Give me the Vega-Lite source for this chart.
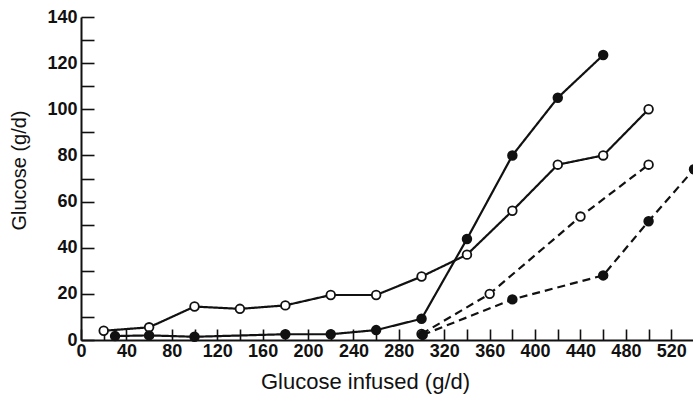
{
  "$schema": "https://vega.github.io/schema/vega-lite/v6.json",
  "width": 613,
  "height": 323,
  "autosize": {"type": "none"},
  "padding": {"left": 81, "top": 17, "right": 0, "bottom": 57},
  "background": "white",
  "config": {"view": {"stroke": null}},
  "data": {
    "values": [
      {"x": 20, "y": 4, "series": "S1"},
      {"x": 60, "y": 5.5, "series": "S1"},
      {"x": 100, "y": 14.5, "series": "S1"},
      {"x": 140, "y": 13.5, "series": "S1"},
      {"x": 180, "y": 15, "series": "S1"},
      {"x": 220, "y": 19.5, "series": "S1"},
      {"x": 260, "y": 19.5, "series": "S1"},
      {"x": 300, "y": 27.5, "series": "S1"},
      {"x": 340, "y": 37, "series": "S1"},
      {"x": 380, "y": 56, "series": "S1"},
      {"x": 420, "y": 76, "series": "S1"},
      {"x": 460, "y": 80, "series": "S1"},
      {"x": 500, "y": 100, "series": "S1"},
      {"x": 30, "y": 1.7, "series": "S2"},
      {"x": 60, "y": 2, "series": "S2"},
      {"x": 100, "y": 1.4, "series": "S2"},
      {"x": 180, "y": 2.5, "series": "S2"},
      {"x": 220, "y": 2.5, "series": "S2"},
      {"x": 260, "y": 4.3, "series": "S2"},
      {"x": 300, "y": 9.2, "series": "S2"},
      {"x": 340, "y": 43.8, "series": "S2"},
      {"x": 380, "y": 80, "series": "S2"},
      {"x": 420, "y": 105, "series": "S2"},
      {"x": 460, "y": 123.5, "series": "S2"},
      {"x": 300, "y": 2.6, "series": "S3"},
      {"x": 360, "y": 20, "series": "S3"},
      {"x": 440, "y": 53.5, "series": "S3"},
      {"x": 500, "y": 76, "series": "S3"},
      {"x": 301, "y": 2.2, "series": "S4"},
      {"x": 380, "y": 17.6, "series": "S4"},
      {"x": 460, "y": 28, "series": "S4"},
      {"x": 500, "y": 51.5, "series": "S4"},
      {"x": 540, "y": 74, "series": "S4"}
    ]
  },
  "encoding": {
    "x": {
      "field": "x",
      "type": "quantitative",
      "scale": {"domain": [0, 540], "nice": false, "zero": false},
      "axis": {
        "title": "Glucose infused (g/d)",
        "values": [0, 20, 40, 60, 80, 100, 120, 140, 160, 180, 200, 220, 240, 260, 280, 300, 320, 340, 360, 380, 400, 420, 440, 460, 480, 500, 520, 540],
        "labelExpr": "datum.value % 40 == 0 && datum.value < 540 ? datum.label : ''",
        "grid": false,
        "domainColor": "#111",
        "domainWidth": 2,
        "tickColor": "#111",
        "tickWidth": 1.6,
        "tickSize": -11,
        "labelPadding": 13,
        "labelFont": "Liberation Sans, Arial, sans-serif",
        "labelFontWeight": "bold",
        "labelFontSize": 18,
        "labelColor": "#111",
        "labelFlush": false,
        "labelOverlap": false,
        "titleFont": "Liberation Sans, Arial, sans-serif",
        "titleFontWeight": "normal",
        "titleFontSize": 22,
        "titleColor": "#111",
        "titleX": 284,
        "titleY": 48,
        "titleBaseline": "alphabetic",
        "titleAlign": "center",
        "titleAnchor": null
      }
    },
    "y": {
      "field": "y",
      "type": "quantitative",
      "scale": {"domain": [0, 140], "nice": false},
      "axis": {
        "title": "Glucose (g/d)",
        "values": [0, 10, 20, 30, 40, 50, 60, 70, 80, 90, 100, 110, 120, 130, 140],
        "labelExpr": "datum.value % 20 == 0 ? datum.label : ''",
        "grid": false,
        "domainColor": "#111",
        "domainWidth": 2,
        "tickColor": "#111",
        "tickWidth": 1.6,
        "tickSize": -13,
        "labelPadding": 17,
        "labelFont": "Liberation Sans, Arial, sans-serif",
        "labelFontWeight": "bold",
        "labelFontSize": 18,
        "labelColor": "#111",
        "labelFlush": false,
        "labelOverlap": false,
        "titleFont": "Liberation Sans, Arial, sans-serif",
        "titleFontWeight": "normal",
        "titleFontSize": 20,
        "titleColor": "#111",
        "titleX": -56,
        "titleY": 153,
        "titleAngle": 270,
        "titleBaseline": "alphabetic",
        "titleAlign": "center",
        "titleAnchor": null
      }
    }
  },
  "layer": [
    {
      "mark": {"type": "line", "color": "#111", "strokeWidth": 2.2},
      "encoding": {
        "detail": {"field": "series"},
        "strokeDash": {
          "field": "series",
          "type": "nominal",
          "scale": {"domain": ["S1", "S2", "S3", "S4"], "range": [[1, 0], [1, 0], [8, 5], [8, 5]]},
          "legend": null
        }
      }
    },
    {
      "mark": {"type": "point", "shape": "circle", "filled": true, "size": 75, "stroke": "#111", "strokeWidth": 1.8, "opacity": 1},
      "encoding": {
        "fill": {
          "field": "series",
          "type": "nominal",
          "scale": {"domain": ["S1", "S2", "S3", "S4"], "range": ["white", "#111", "white", "#111"]},
          "legend": null
        }
      }
    }
  ]
}
